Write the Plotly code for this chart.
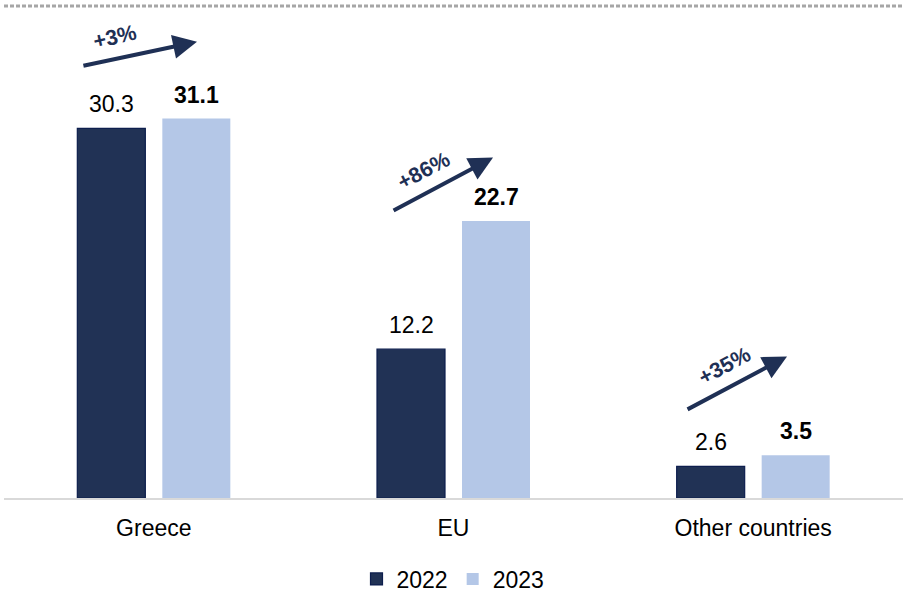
import plotly.graph_objects as go

# Data
categories = ["Greece", "EU", "Other countries"]
values_2022 = [30.3, 12.2, 2.6]
values_2023 = [31.1, 22.7, 3.5]
growth_labels = ["+3%", "+86%", "+35%"]

# Growth arrows: (tail x, tail y, head x, head y) in category-index / value units
arrow_tails = [(-0.24, 35.4), (0.795, 23.5), (1.776, 7.2)]
arrow_heads = [(0.144, 37.4), (1.132, 27.9), (2.113, 11.6)]
label_pos = [(-0.13, 37.8), (0.90, 26.8), (1.905, 10.8)]
label_angle = [-13, -28, -28]

FONT = "Liberation Sans, Arial, sans-serif"
NAVY = "#213255"
NAVY_EDGE = "#0d1e4e"
LIGHT = "#b4c7e7"
ARROW = "#1f3055"

fig = go.Figure()
fig.add_bar(name="2022", x=categories, y=values_2022,
            marker=dict(color=NAVY, line=dict(color=NAVY_EDGE, width=1.2)))
fig.add_bar(name="2023", x=categories, y=values_2023,
            marker=dict(color=LIGHT, line=dict(color=LIGHT, width=0)))

annotations = []
slot_px = 42.5
for i, cat in enumerate(categories):
    annotations.append(dict(x=cat, y=values_2022[i], xref="x", yref="y",
                            text=f"{values_2022[i]:.1f}", showarrow=False,
                            xshift=-slot_px, yshift=9, yanchor="bottom",
                            font=dict(family=FONT, size=23, color="#000")))
    annotations.append(dict(x=cat, y=values_2023[i], xref="x", yref="y",
                            text=f"<b>{values_2023[i]:.1f}</b>", showarrow=False,
                            xshift=slot_px, yshift=9, yanchor="bottom",
                            font=dict(family=FONT, size=23, color="#000")))
    (tx, ty), (hx, hy) = arrow_tails[i], arrow_heads[i]
    annotations.append(dict(x=hx, y=hy, ax=tx, ay=ty, xref="x", yref="y",
                            axref="x", ayref="y", text="", showarrow=True,
                            arrowhead=2, arrowsize=1.2, arrowwidth=4,
                            arrowcolor=ARROW, standoff=0, startstandoff=0))
    lx, ly = label_pos[i]
    annotations.append(dict(x=lx, y=ly, xref="x", yref="y",
                            text=f"<b>{growth_labels[i]}</b>",
                            showarrow=False, textangle=label_angle[i],
                            font=dict(family=FONT, size=21.5, color=ARROW)))

fig.update_layout(
    width=906, height=592,
    margin=dict(l=4, r=3, t=10, b=94, autoexpand=False),
    paper_bgcolor="white", plot_bgcolor="white",
    barmode="group", bargap=0.4327, bargroupgap=0.2,
    font=dict(family=FONT, size=23, color="#000"),
    showlegend=True,
    legend=dict(orientation="h", x=0.5, xanchor="center",
                xref="container", yref="container", y=0.022, yanchor="middle",
                font=dict(family=FONT, size=23, color="#000"),
                traceorder="normal", itemwidth=30),
    annotations=annotations,
    shapes=[dict(type="line", xref="paper", yref="paper", x0=0, x1=1,
                 y0=1.008, y1=1.008,
                 line=dict(color="#a6a6a6", width=3, dash="4px,2px"))],
)
fig.update_xaxes(showline=True, linecolor="#d9d9d9", linewidth=2,
                 ticks="", showgrid=False, tickfont=dict(size=23),
                 ticklabelstandoff=8, automargin=False)
fig.update_yaxes(range=[0, 40], visible=False, showgrid=False, zeroline=False)

fig.write_html("out.html")
